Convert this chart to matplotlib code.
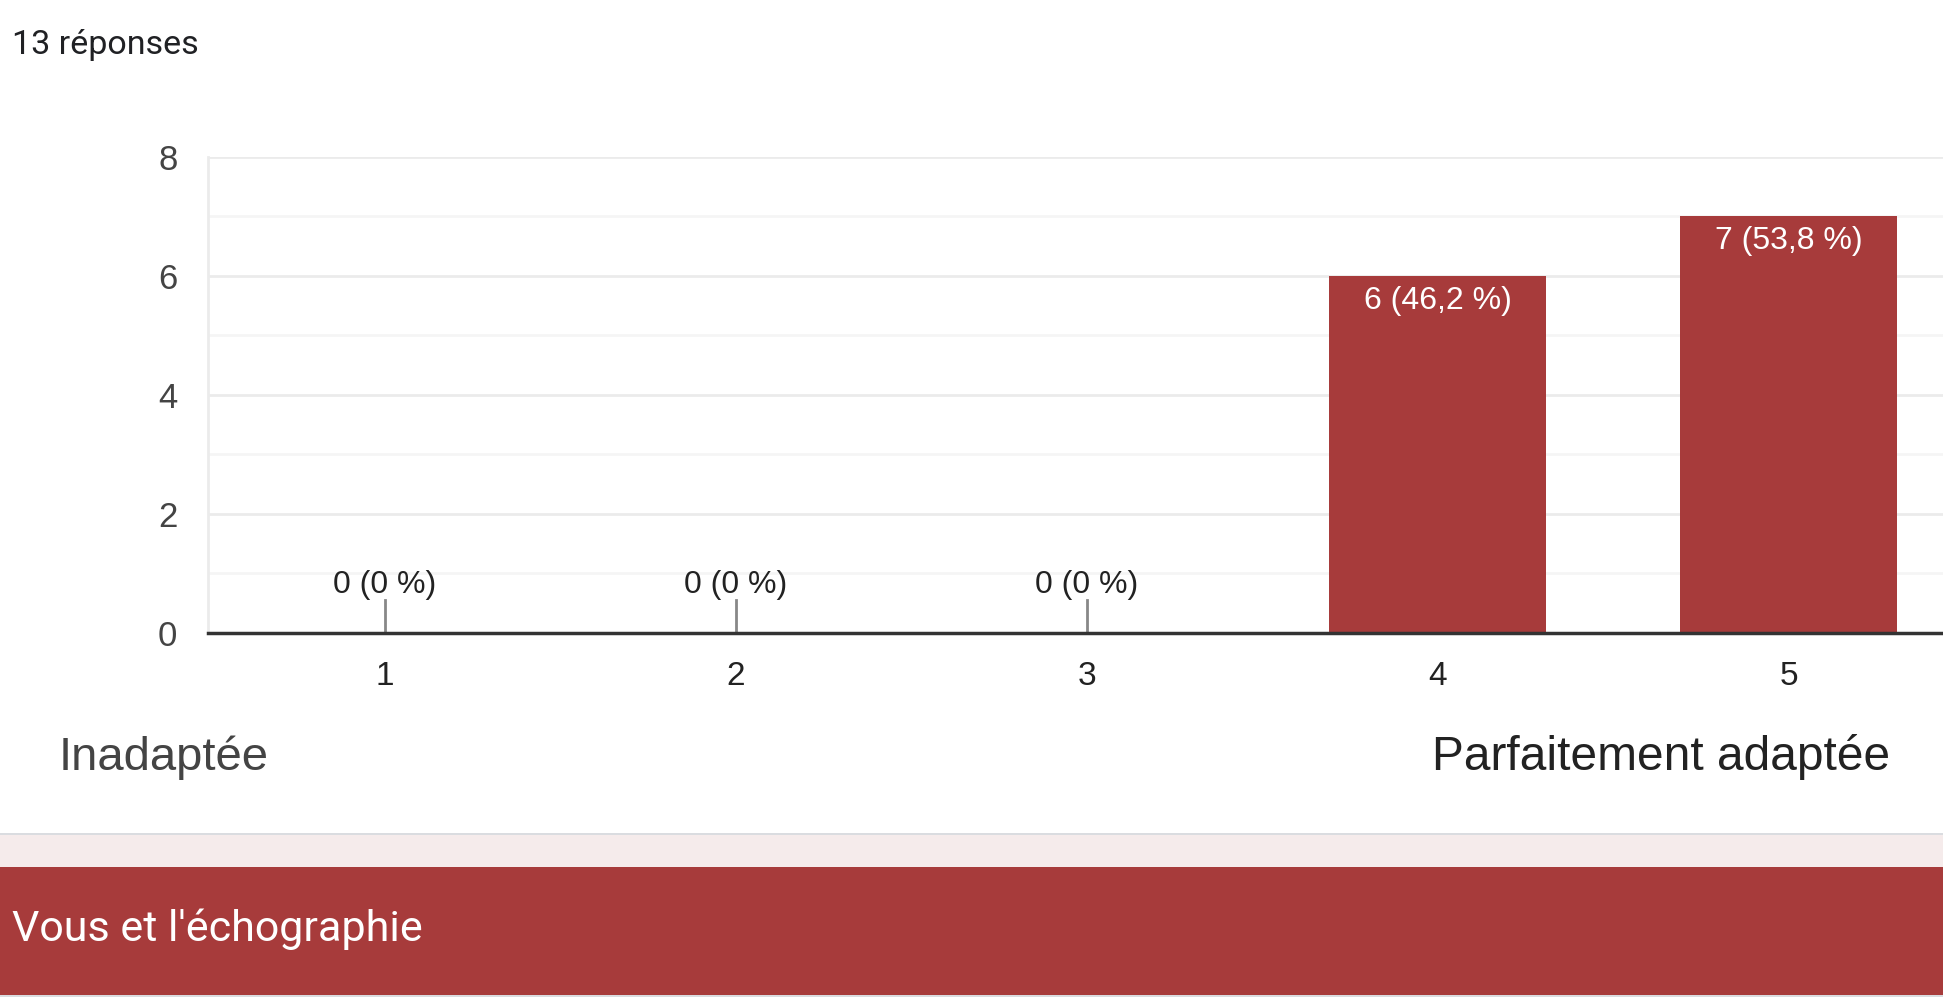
import matplotlib.pyplot as plt
from matplotlib.patches import Rectangle

# données
categories = [1, 2, 3, 4, 5]
counts = [0, 0, 0, 6, 7]
labels = ["0 (0 %)", "0 (0 %)", "0 (0 %)", "6 (46,2 %)", "7 (53,8 %)"]
yticks = [0, 2, 4, 6, 8]
total_text = "13 réponses"
low_label = "Inadaptée"
high_label = "Parfaitement adaptée"
section_title = "Vous et l'échographie"

RED = "#a73b3b"
W, H = 1943, 1005

fig = plt.figure(figsize=(W / 100, H / 100), dpi=100)
fig.patch.set_facecolor("white")

# bandeaux du bas
fig.patches.append(Rectangle((0, 1 - 867 / H), 1, 33 / H, transform=fig.transFigure,
                             facecolor="#f5ebeb", edgecolor="none", zorder=0))
fig.patches.append(Rectangle((0, 1 - 835 / H), 1, 2 / H, transform=fig.transFigure,
                             facecolor="#dadce0", edgecolor="none", zorder=1))
fig.patches.append(Rectangle((0, 1 - 995 / H), 1, 128 / H, transform=fig.transFigure,
                             facecolor=RED, edgecolor="none", zorder=0))
fig.patches.append(Rectangle((0, 1 - 997 / H), 1, 2 / H, transform=fig.transFigure,
                             facecolor="#dadce0", edgecolor="none", zorder=1))

ax = fig.add_axes([208 / W, 1 - 633 / H, 1 - 208 / W, 476 / H])
ax.set_xlim(0.496, 5.44)
ax.set_ylim(0, 8)

ax.bar(categories, counts, width=0.62, color=RED, zorder=3)

for spine in ["top", "right"]:
    ax.spines[spine].set_visible(False)
ax.spines["left"].set_color("#ebebeb")
ax.spines["left"].set_linewidth(2)
ax.spines["bottom"].set_color("#333333")
ax.spines["bottom"].set_linewidth(2.5)
ax.spines["bottom"].set_zorder(5)

ax.set_yticks(yticks)
ax.set_yticks([1, 3, 5, 7], minor=True)
ax.grid(axis="y", which="major", color="#ebebeb", linewidth=2, zorder=0)
ax.grid(axis="y", which="minor", color="#f5f5f5", linewidth=2, zorder=0)
ax.set_xticks(categories)
ax.tick_params(axis="both", which="both", length=0)
ax.tick_params(axis="y", labelsize=25, labelcolor="#444444", pad=22)
ax.tick_params(axis="x", labelsize=24, labelcolor="#222222", pad=20)
for lab in ax.get_xticklabels() + ax.get_yticklabels():
    lab.set_family("Liberation Sans")

for x, v, txt in zip(categories, counts, labels):
    if v == 0:
        ax.plot([x, x], [0, 0.55], color="#888888", linewidth=2, zorder=4)
        ax.annotate(txt, (x, 0), xytext=(0, 48), textcoords="offset pixels",
                    ha="center", va="center", fontsize=23, color="#222222",
                    family="Liberation Sans")
    else:
        ax.annotate(txt, (x, v), xytext=(0, -25), textcoords="offset pixels",
                    ha="center", va="center", fontsize=23, color="white",
                    family="Liberation Sans")

fig.text(12 / W, 1 - 45 / H, total_text, ha="left", va="center",
         fontsize=24.5, color="#202124", family="Roboto")
fig.text(59 / W, 1 - 758 / H, low_label, ha="left", va="center",
         fontsize=34, color="#444444", family="Liberation Sans")
fig.text(1890 / W, 1 - 757 / H, high_label, ha="right", va="center",
         fontsize=34.5, color="#222222", family="Liberation Sans")
fig.text(12 / W, 1 - 929 / H, section_title, ha="left", va="center",
         fontsize=31, color="white", family="Roboto")

fig.savefig("out.png", dpi=100)
